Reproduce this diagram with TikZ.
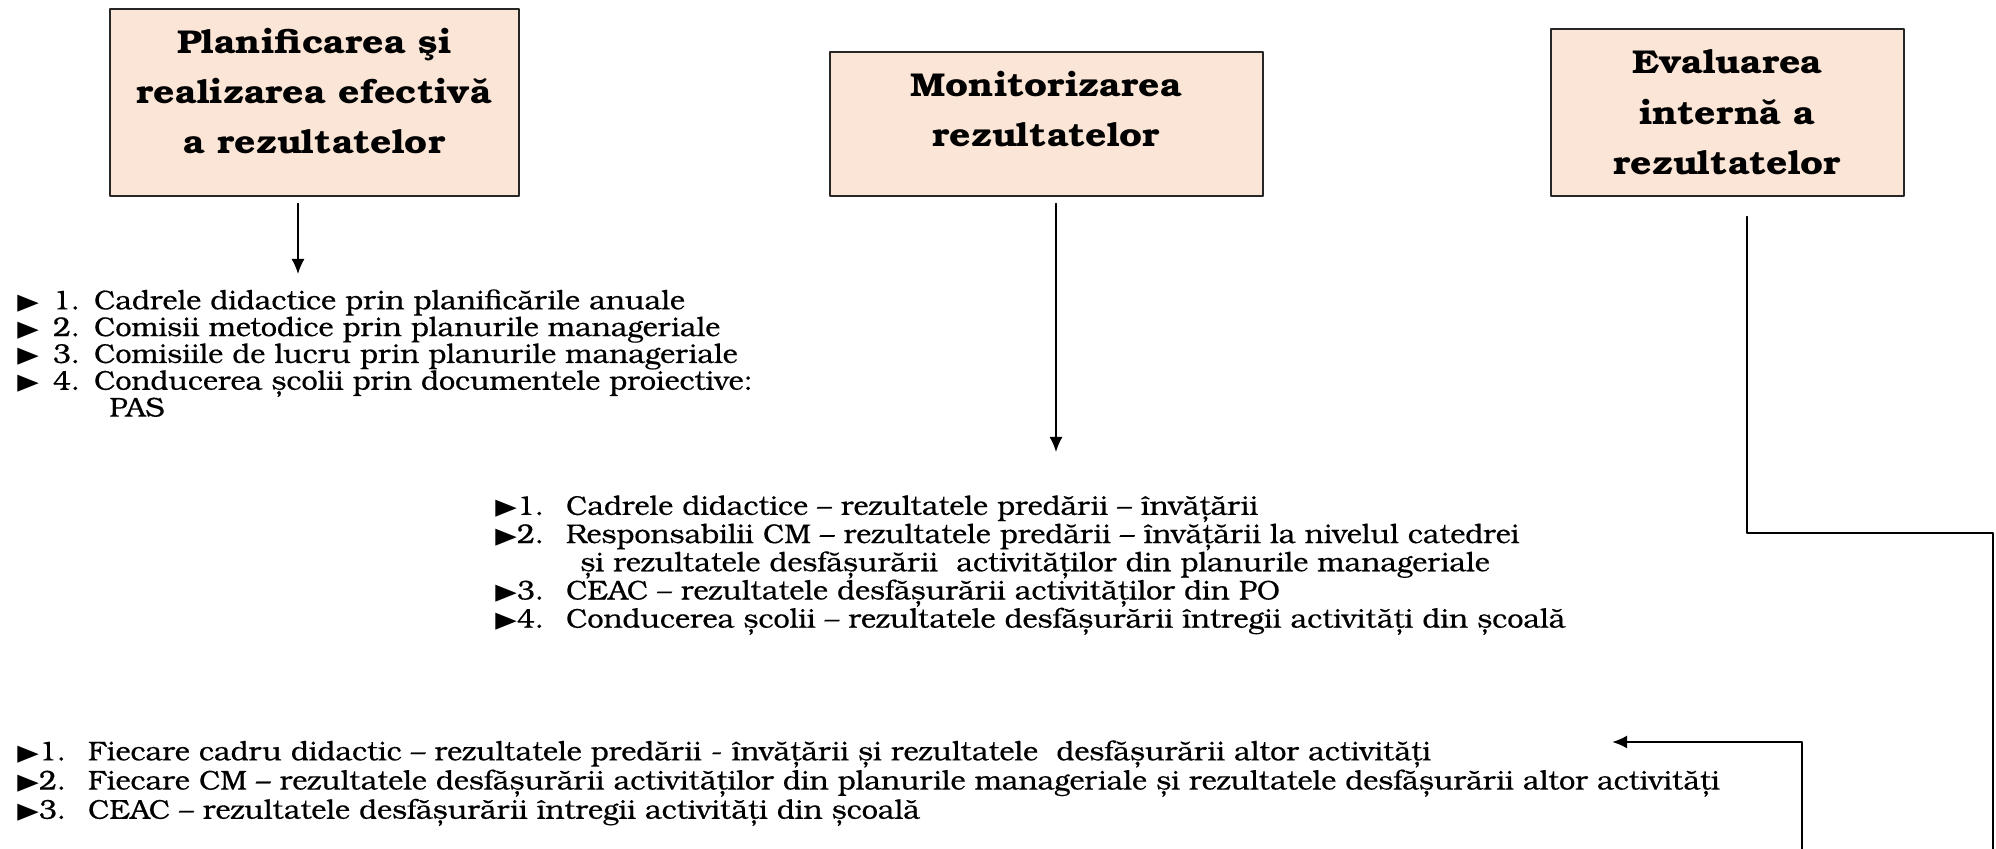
\documentclass[tikz,border=0pt]{standalone}
\usepackage{fontspec}
\usepackage{graphicx}
\setmainfont{texgyrebonum}[Extension=.otf, UprightFont=*-regular, BoldFont=*-bold, FakeStretch=1.06, FakeBold=0.4]
\newfontfamily\boxfont{texgyrebonum}[Extension=.otf, UprightFont=*-bold, FakeStretch=1.13]
\newfontfamily\symfont{DejaVu Sans}
\usetikzlibrary{arrows.meta}
\definecolor{boxfill}{HTML}{FBE5D6}
\newcommand{\tri}{{\symfont\fontsize{14}{14}\selectfont\scalebox{1}[0.8]{▶}}}

\begin{document}
\begin{tikzpicture}[x=0.5pt,y=-0.5pt,line cap=round,line join=round,>={Latex[length=7.5pt,width=6.5pt]},
    box/.style={draw=black!85,fill=boxfill,line width=0.8pt,inner sep=0pt,anchor=north west,
      font=\fontsize{16.5}{25.2}\boxfont},
    list/.style={anchor=north west,inner sep=0pt,align=left},
    link/.style={line width=0.8pt}]
  \useasboundingbox (0,0) rectangle (1996,849);

  % Draw the three boxes
  \node[box] (P) at (109,8) {\parbox[c][93.5pt][t]{204.5pt}{\centering\vspace*{9.5pt}Planificarea şi\\realizarea efectivă\\a rezultatelor}};
  \node[box] (M) at (829,51) {\parbox[c][72pt][t]{216.5pt}{\centering\vspace*{9.5pt}Monitorizarea\\rezultatelor}};
  \node[box] (E) at (1550,28) {\parbox[c][83.5pt][t]{176.5pt}{\centering\vspace*{10.5pt}Evaluarea\\internă a\\rezultatelor}};

  % Add the lists
  \node[list,font=\fontsize{13.6}{13.4}\selectfont] (L) at (17,289) {\tri\hspace{7pt}1.\hspace{7pt}Cadrele didactice prin planificările anuale\\
    \tri\hspace{7pt}2.\hspace{7pt}Comisii metodice prin planurile manageriale\\
    \tri\hspace{7pt}3.\hspace{7pt}Comisiile de lucru prin planurile manageriale\\
    \tri\hspace{7pt}4.\hspace{7pt}Conducerea școlii prin documentele proiective:\\
    \hspace*{46pt}PAS};
  \node[list,font=\fontsize{13.6}{14.1}\selectfont] (Mi) at (495,495) {\tri1.\hspace{11pt}Cadrele didactice – rezultatele predării – învățării\\
    \tri2.\hspace{11pt}Responsabilii CM – rezultatele predării – învățării la nivelul catedrei\\
    \hspace*{42.5pt}și rezultatele desfășurării\ \ activităților din planurile manageriale\\
    \tri3.\hspace{11pt}CEAC – rezultatele desfășurării activităților din PO\\
    \tri4.\hspace{11pt}Conducerea școlii – rezultatele desfășurării întregii activități din școală};
  \node[list,font=\fontsize{13.6}{14.6}\selectfont] (B) at (17,740) {\tri1.\hspace{11pt}Fiecare cadru didactic – rezultatele predării - învățării și rezultatele\ \ desfășurării altor activități\\
    \tri2.\hspace{11pt}Fiecare CM – rezultatele desfășurării activităților din planurile manageriale și rezultatele desfășurării altor activități\\
    \tri3.\hspace{11pt}CEAC – rezultatele desfășurării întregii activități din școală};

  % Free ends of the connectors
  \coordinate (p1) at (298,274);
  \coordinate (m1) at (1056,452);
  \coordinate (e1) at (1747,533);
  \coordinate (e2) at (1993,533);
  \coordinate (e3) at (1993,849);
  \coordinate (b0) at (1802,849);
  \coordinate (b1) at (1612,742);

  % Connectors
  \draw[link,->,shorten <=3.5pt] (P.south -| p1) -- (p1);
  \draw[link,->,shorten <=3.5pt] (M.south -| m1) -- (m1);
  \draw[link,shorten <=10pt] (E.south -| e1) -- (e1) -- (e2) -- (e3);
  \draw[link,line width=1.1pt,->] (b0) |- (b1);
\end{tikzpicture}
\end{document}
